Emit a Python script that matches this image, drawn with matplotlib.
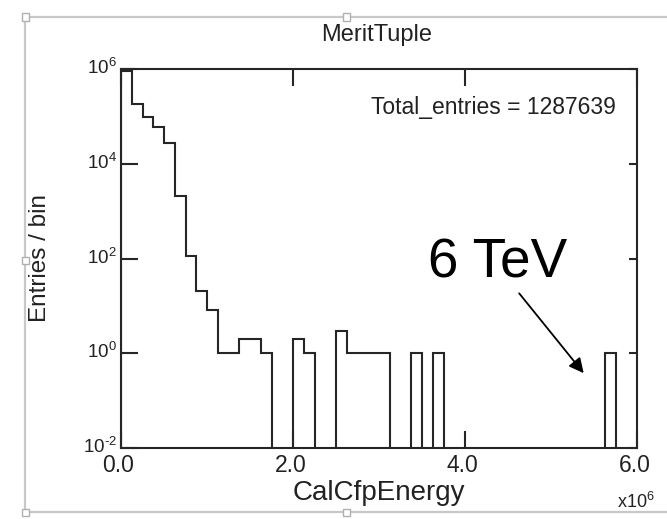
import numpy as np
import matplotlib
matplotlib.use("Agg")
import matplotlib.pyplot as plt
import matplotlib.transforms as mtransforms
from matplotlib.lines import Line2D
from matplotlib.patches import Rectangle
from matplotlib.ticker import FixedLocator, FuncFormatter, NullLocator

plt.rcParams["font.family"] = ["Liberation Sans", "DejaVu Sans"]
plt.rcParams["mathtext.fontset"] = "custom"
plt.rcParams["mathtext.rm"] = "Liberation Sans"
plt.rcParams["mathtext.it"] = "Liberation Sans:italic"
plt.rcParams["mathtext.default"] = "regular"

# CalCfpEnergy histogram: 48 equal bins between 0 and 6e6
energy_min = 0.0
energy_max = 6.0e6
n_bins = 48
counts = [
    915000, 182000, 98000, 60500, 27800, 2080, 113, 21, 8, 1,
    1, 2, 2, 1, 0, 0, 2, 1, 0, 0,
    3, 1, 1, 1, 1, 0, 0, 1, 0, 1,
    0, 0, 0, 0, 0, 0, 0, 0, 0, 0,
    0, 0, 0, 0, 0, 1, 0, 0,
]
total_entries = 1287639
x_ticks = [0.0, 2.0e6, 4.0e6, 6.0e6]
y_ticks = [1e-2, 1e0, 1e2, 1e4, 1e6]
title = "MeritTuple"
x_label = "CalCfpEnergy"
y_label = "Entries / bin"
note = "6 TeV"

W, H = 667, 519
ink = "#262626"
label_ink = "#222222"
frame_grey = "#c8c8c8"

fig = plt.figure(figsize=(W / 100, H / 100), dpi=100)
fig.patch.set_facecolor("white")


def fx(px):
    return px / W


def fy(py):
    return 1.0 - py / H


ax = fig.add_axes([fx(121), fy(448), fx(637) - fx(121), fy(69) - fy(448)])

edges = np.linspace(energy_min, energy_max, n_bins + 1)
floor = 1e-4  # empty bins drop below the visible range
vals = np.where(np.asarray(counts) > 0, counts, floor).astype(float)
ax.stairs(vals, edges, baseline=floor, color=ink, lw=1.5, zorder=3)

ax.set_yscale("log")
ax.set_xlim(energy_min, energy_max)
ax.set_ylim(1e-2, 1e6)


def decade_label(v, pos):
    e = int(round(np.log10(v)))
    exp = str(e).replace("-", "\u2010")
    return "$10^{%s}$" % exp


ax.xaxis.set_major_locator(FixedLocator(x_ticks))
ax.xaxis.set_minor_locator(NullLocator())
ax.yaxis.set_major_locator(FixedLocator(y_ticks))
ax.yaxis.set_minor_locator(NullLocator())
ax.xaxis.set_major_formatter(FuncFormatter(lambda v, p: f"{v / 1e6:.1f}"))
ax.yaxis.set_major_formatter(FuncFormatter(decade_label))

for s in ax.spines.values():
    s.set_color(ink)
    s.set_linewidth(1.5)

ax.tick_params(axis="both", which="major", direction="in", top=True,
               right=True, length=12, width=1.5, color=ink)
ax.tick_params(axis="x", labelsize=16.5, pad=4.5, labelcolor=label_ink)
ax.tick_params(axis="y", labelsize=13.5, pad=3, labelcolor=label_ink)
for t in ax.yaxis.get_major_ticks():
    t.tick2line.set_markersize(6)

# nudge the energy tick labels slightly left and the decade labels up
shift_x = mtransforms.ScaledTranslation(-2.5 / 100, 0, fig.dpi_scale_trans)
for t in ax.xaxis.get_major_ticks():
    t.label1.set_transform(t.label1.get_transform() + shift_x)
shift_y = mtransforms.ScaledTranslation(0, 3.0 / 100, fig.dpi_scale_trans)
for t in ax.yaxis.get_major_ticks():
    t.label1.set_transform(t.label1.get_transform() + shift_y)

# title, axis labels and annotations
fig.text(fx(377), fy(41), title, ha="center", va="baseline",
         fontsize=17, color=label_ink)
fig.text(fx(378.5), fy(500), x_label, ha="center", va="baseline",
         fontsize=20, color=label_ink)
fig.text(fx(40), fy(258), y_label, ha="center", va="center",
         rotation=90, fontsize=17.5, color=label_ink)
fig.text(fx(616), fy(114), f"Total_entries = {total_entries}",
         ha="right", va="baseline", fontsize=16.5, color=label_ink)
fig.text(fx(655), fy(508), "x10$^{6}$", ha="right", va="baseline",
         fontsize=13, color=label_ink)
fig.text(fx(567), fy(278), note, ha="right", va="baseline",
         fontsize=39.5, color="black")

ax.annotate("", xy=(5.38e6, 0.38), xytext=(4.63e6, 18.4),
            xycoords="data", textcoords="data",
            arrowprops=dict(arrowstyle="-|>", mutation_scale=22,
                            lw=1.3, color="black", shrinkA=0, shrinkB=0),
            annotation_clip=False, zorder=4)

# surrounding selection frame with handles
frame_lines = [
    ((25, 667), (17, 17)),
    ((25, 667), (512, 512)),
    ((25, 25), (17, 512)),
]
for xs, ys in frame_lines:
    fig.add_artist(Line2D([fx(xs[0]), fx(xs[1])], [fy(ys[0]), fy(ys[1])],
                          color=frame_grey, lw=1.6, transform=fig.transFigure))
for hx, hy in [(25, 17), (347, 17), (25, 260), (25, 512), (347, 512)]:
    fig.add_artist(Rectangle((fx(hx - 3.5), fy(hy + 3.5)), 7 / W, 7 / H,
                             transform=fig.transFigure, facecolor="white",
                             edgecolor="#b0b0b0", lw=1.0, zorder=5))

fig.savefig("out.png", dpi=100, facecolor="white")
